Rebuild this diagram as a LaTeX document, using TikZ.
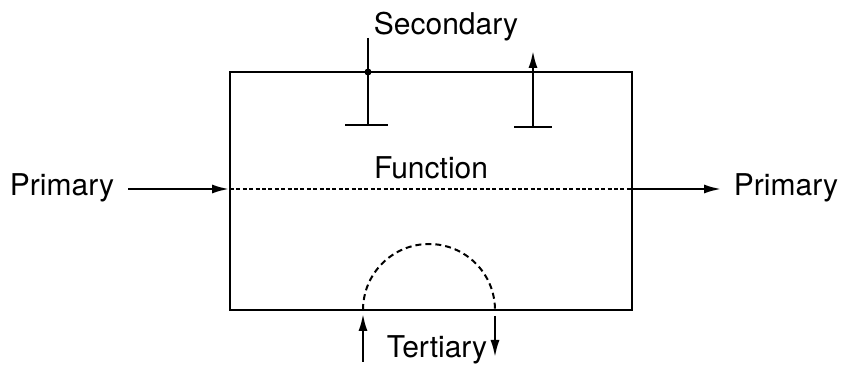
\documentclass[tikz,border=0pt]{standalone}
\usepackage{fontspec}
\setmainfont{TeX Gyre Heros}
\usetikzlibrary{arrows.meta}
\begin{document}
\begin{tikzpicture}[x=0.5pt,y=-0.5pt,line width=1.4pt,
  lbl/.style={font=\fontsize{15}{18}\selectfont,inner sep=0pt},
  arr/.style={-{Latex[length=9pt,width=4.5pt]}},
  dotline/.style={line width=0.8pt,dash pattern=on 2pt off 1.2pt},
  arcline/.style={line width=1pt,dash pattern=on 3pt off 2pt}]
\useasboundingbox (0,0) rectangle (848,374);
% box
\node[draw,minimum width=201pt,minimum height=119pt,inner sep=0pt,outer sep=0pt] (box) at (431,191) {};
\node[lbl] (fn) at (431,168) {Function};
% primary
\node[lbl] (pl) at (62,188) {Primary};
\node[lbl] (pr) at (786,188) {Primary};
\coordinate (pls) at (128,189);
\coordinate (bw) at (230,189);
\coordinate (be) at (632,189);
\coordinate (pre) at (722,189);
\draw[arr] (pls) -- (bw);
\draw[dotline] (bw) -- (be);
\draw[arr] (be) -- (pre);
% secondary
\node[lbl] (sec) at (446,27) {Secondary};
\coordinate (s1t) at (368,38);
\coordinate (s1b) at (368,125);
\coordinate (s1l) at (345,125);
\coordinate (s1r) at (388,125);
\draw (s1t) -- (s1b);
\draw (s1l) -- (s1r);
\fill (368,72) circle (3.5);
\coordinate (s2b) at (533,127);
\coordinate (s2t) at (533,50);
\coordinate (s2l) at (514,127);
\coordinate (s2r) at (552,127);
\draw[arr] (s2b) -- (s2t);
\draw (s2l) -- (s2r);
% tertiary
\coordinate (ta) at (363,310);
\draw[arcline] (ta) arc[start angle=180,end angle=360,x radius=66,y radius=66];
\node[lbl] (ter) at (437,350) {Tertiary};
\coordinate (t1b) at (363,362);
\coordinate (t1t) at (363,313);
\coordinate (t2t) at (495,316);
\coordinate (t2b) at (495,358);
\draw[arr] (t1b) -- (t1t);
\draw[arr] (t2t) -- (t2b);
\end{tikzpicture}
\end{document}
